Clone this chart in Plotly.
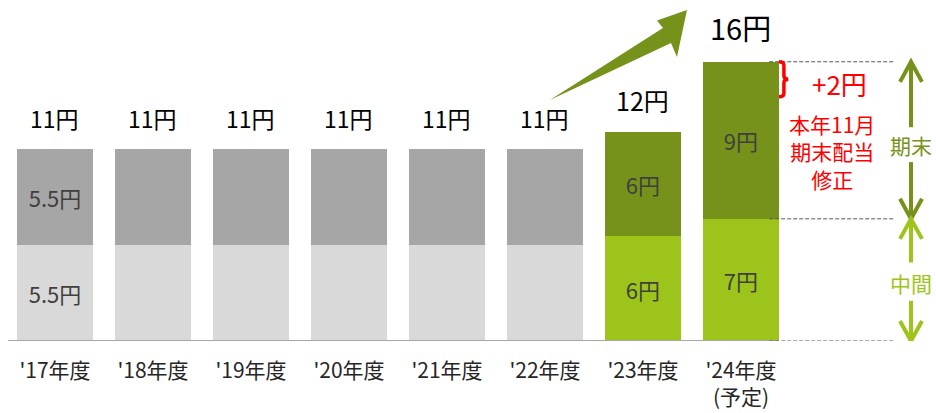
import plotly.graph_objects as go

# ---- data -------------------------------------------------------------
years = ["'17年度", "'18年度", "'19年度", "'20年度", "'21年度", "'22年度",
         "'23年度", "'24年度<br>(予定)"]
interim = [5.5, 5.5, 5.5, 5.5, 5.5, 5.5, 6, 7]        # 中間配当
year_end = [5.5, 5.5, 5.5, 5.5, 5.5, 5.5, 6, 9]       # 期末配当
interim_labels = ["5.5円", "", "", "", "", "", "6円", "7円"]
year_end_labels = ["5.5円", "", "", "", "", "", "6円", "9円"]
revision = 2                                           # 期末配当の修正額

totals = [a + b for a, b in zip(interim, year_end)]
xs = list(range(len(years)))

# ---- styling ----------------------------------------------------------
FONT = "Noto Sans CJK JP"
LIME = "#9DC41A"
OLIVE = "#76921A"
interim_colors = ["#D9D9D9"] * 6 + [LIME] * 2
year_end_colors = ["#A6A6A6"] * 6 + [OLIVE] * 2
total_sizes = [23] * 6 + [25, 29]
BAR_W = 0.776

fig = go.Figure()
fig.add_trace(go.Bar(
    x=xs, y=interim, width=BAR_W, marker=dict(color=interim_colors, line_width=0),
    text=interim_labels, textposition="inside", insidetextanchor="middle",
    insidetextfont=dict(family=FONT, size=22, color="#404040"),
    hoverinfo="skip", showlegend=False))
fig.add_trace(go.Bar(
    x=xs, y=year_end, width=BAR_W, marker=dict(color=year_end_colors, line_width=0),
    text=year_end_labels, textposition="inside", insidetextanchor="middle",
    insidetextfont=dict(family=FONT, size=22, color="#404040"),
    hoverinfo="skip", showlegend=False))

# totals above each bar
for x, t, s in zip(xs, totals, total_sizes):
    fig.add_annotation(x=x, y=t, text=f"{t:g}円", showarrow=False,
                       yanchor="bottom", yshift=12,
                       font=dict(family=FONT, size=s, color="#000000"))

shapes = []
last = xs[-1]
right_edge = last + BAR_W / 2

# baseline
shapes.append(dict(type="line", x0=-0.48, x1=right_edge, y0=0, y1=0,
                   line=dict(color="#A6A6A6", width=2)))

# dashed guides at the split levels of the latest bar
for lvl in (0, interim[-1], totals[-1]):
    shapes.append(dict(type="line", x0=right_edge - 0.1, x1=8.571, y0=lvl, y1=lvl,
                       line=dict(color="#595959", width=1, dash="4px,2px")))

# growth arrow
arrow_pts = [(5.05, 13.81), (6.204, 17.94), (6.143, 18.37), (6.449, 18.97),
             (6.347, 16.28), (6.286, 17.08)]
path = "M " + " L ".join(f"{px},{py}" for px, py in arrow_pts) + " Z"
shapes.append(dict(type="path", path=path, fillcolor=OLIVE, line_width=0))

# red brace marking the revision
top = totals[-1]
low = top - revision
mid = (top + low) / 2
bx0, bx1, bx2 = right_edge, right_edge + 0.05, right_edge + 0.095
brace = (f"M {bx0},{top} Q {bx1},{top} {bx1},{top-0.2} L {bx1},{mid+0.2} "
         f"Q {bx1},{mid} {bx2},{mid} Q {bx1},{mid} {bx1},{mid-0.2} "
         f"L {bx1},{low+0.2} Q {bx1},{low} {bx0},{low}")
shapes.append(dict(type="path", path=brace, line=dict(color="#FF0000", width=3.5)))

# double arrows for 期末 / 中間
AX = 8.735
HW = 0.112
HH = 1.15


def vertical_arrow(y_tip, y_tail, color, up):
    d = -HH if up else HH
    shapes.append(dict(type="line", x0=AX, x1=AX, y0=y_tail, y1=y_tip,
                       line=dict(color=color, width=4)))
    shapes.append(dict(type="path",
                       path=f"M {AX-HW},{y_tip+d} L {AX},{y_tip} L {AX+HW},{y_tip+d}",
                       line=dict(color=color, width=4)))


ye_mid = (interim[-1] + totals[-1]) / 2 - 0.25
vertical_arrow(totals[-1], ye_mid + 1.0, OLIVE, up=True)
vertical_arrow(interim[-1], ye_mid - 1.0, OLIVE, up=False)
in_mid = interim[-1] / 2 - 0.2
vertical_arrow(interim[-1], in_mid + 1.2, LIME, up=True)
vertical_arrow(0, in_mid - 1.0, LIME, up=False)

fig.add_annotation(x=AX, y=ye_mid, text="期末", showarrow=False,
                   font=dict(family=FONT, size=21, color=OLIVE))
fig.add_annotation(x=AX, y=in_mid, text="中間", showarrow=False,
                   font=dict(family=FONT, size=21, color=LIME))

fig.add_annotation(x=8.01, y=14.78, text=f"+{revision}円", showarrow=False,
                   font=dict(family=FONT, size=26, color="#FF0000"))
fig.add_annotation(x=7.93, y=10.86, text="本年11月<br>期末配当<br>修正",
                   showarrow=False, align="center",
                   font=dict(family=FONT, size=21, color="#FF0000"))

fig.update_layout(
    width=936, height=413,
    margin=dict(l=0, r=0, t=0, b=72),
    barmode="stack",
    plot_bgcolor="white", paper_bgcolor="white",
    shapes=shapes,
    xaxis=dict(range=[-0.561, 8.99], tickvals=xs, ticktext=years,
               showgrid=False, zeroline=False, showline=False, ticks="",
               ticklabelstandoff=15,
               tickfont=dict(family=FONT, size=21, color="#262626"),
               fixedrange=True),
    yaxis=dict(range=[0, 19.54], visible=False, fixedrange=True),
)

fig.write_html("out.html")
